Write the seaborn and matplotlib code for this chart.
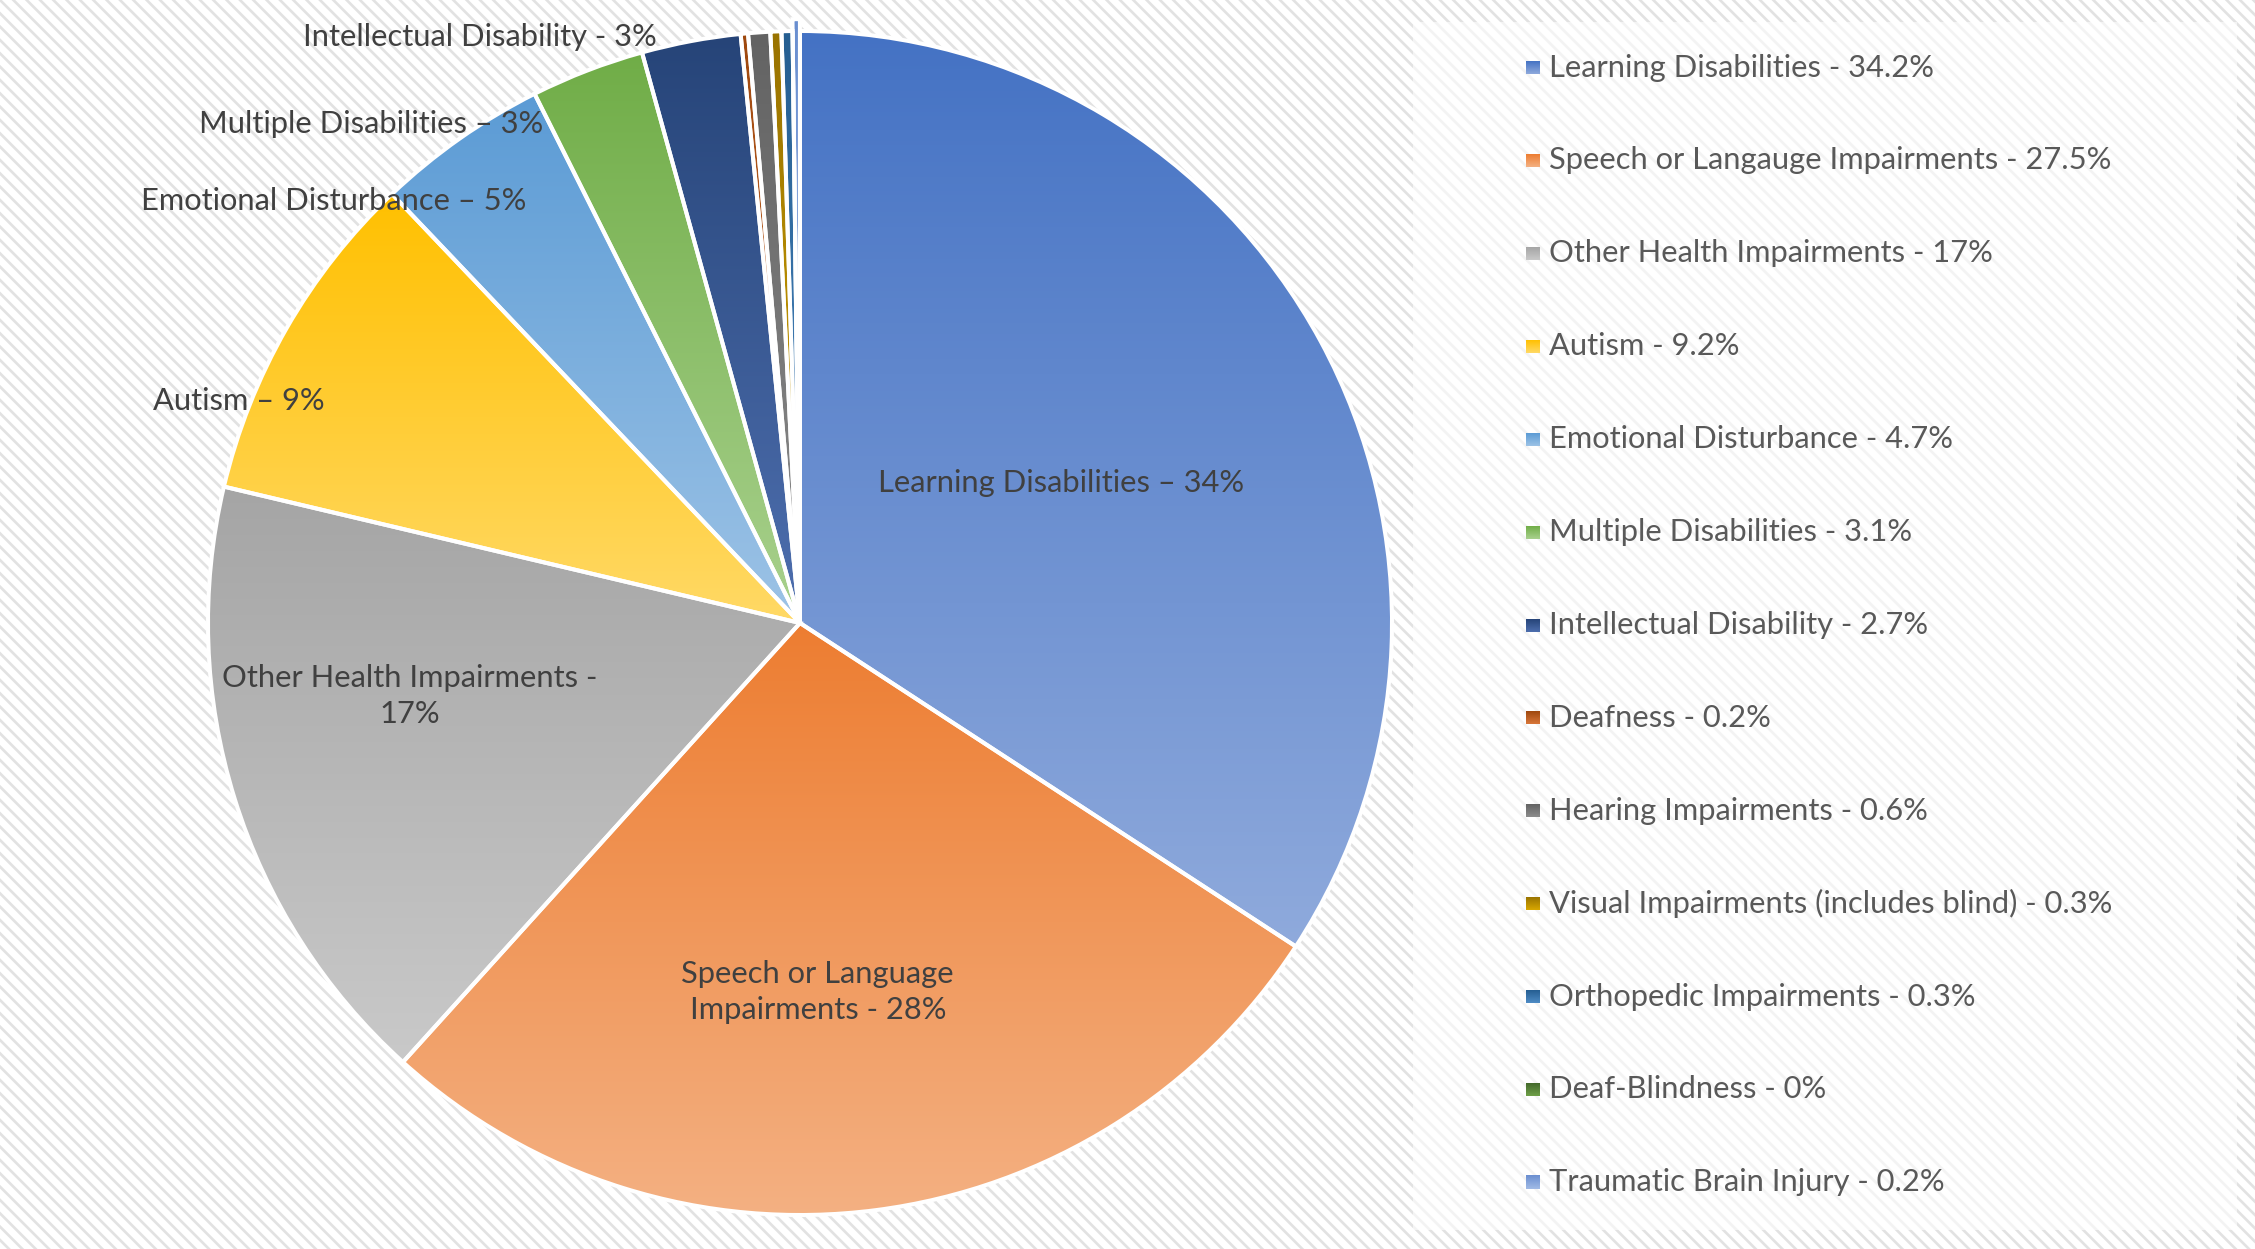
import numpy as np
import matplotlib.pyplot as plt
import seaborn as sns
from matplotlib.patches import Rectangle

# Data
categories = ['Learning Disabilities', 'Speech or Language Impairments', 'Other Health Impairments',
              'Autism', 'Emotional Disturbance', 'Multiple Disabilities', 'Intellectual Disability',
              'Deafness', 'Hearing Impairments', 'Visual Impairments (includes blind)',
              'Orthopedic Impairments', 'Deaf-Blindness', 'Traumatic Brain Injury']
shares = [34.2, 27.5, 17, 9.2, 4.7, 3.1, 2.7, 0.2, 0.6, 0.3, 0.3, 0, 0.2]

legend_labels = ['Learning Disabilities - 34.2%', 'Speech or Langauge Impairments - 27.5%',
                 'Other Health Impairments - 17%', 'Autism - 9.2%', 'Emotional Disturbance - 4.7%',
                 'Multiple Disabilities - 3.1%', 'Intellectual Disability - 2.7%', 'Deafness - 0.2%',
                 'Hearing Impairments - 0.6%', 'Visual Impairments (includes blind) - 0.3%',
                 'Orthopedic Impairments - 0.3%', 'Deaf-Blindness - 0%', 'Traumatic Brain Injury - 0.2%']

slice_labels = ['Learning Disabilities \u2013 34%', 'Speech or Language\nImpairments - 28%',
                'Other Health Impairments -\n17%', 'Autism \u2013 9%', 'Emotional Disturbance \u2013 5%',
                'Multiple Disabilities \u2013 3%', 'Intellectual Disability - 3%']

# label positions in pie units (radius = 1), placed by hand like in the original
label_pos = [(0.441, 0.236), (0.030, -0.623), (-0.659, -0.123), (-0.948, 0.375),
             (-0.787, 0.713), (-0.725, 0.843), (-0.541, 0.990)]

top_colors = ['#4472C4', '#ED7D31', '#A5A5A5', '#FFC000', '#5B9BD5', '#70AD47', '#264478',
              '#9E480E', '#636363', '#997300', '#255E91', '#43682B', '#698ED0']
bottom_colors = ['#8FAADC', '#F4B183', '#C9C9C9', '#FFD966', '#9DC3E6', '#A9D18E', '#4E6FAF',
                 '#D9773A', '#8C8C8C', '#D9A800', '#4F8CC6', '#6FA048', '#A2BBE6']

sns.set_theme(style='white')
plt.rcParams['font.family'] = ['Lato', 'DejaVu Sans']
plt.rcParams['hatch.color'] = '#e2e2e2'
plt.rcParams['hatch.linewidth'] = 1.6

W, H = 2255, 1249
fig = plt.figure(figsize=(W / 120, H / 120), dpi=120)

# hatched background + light legend panel
bg = fig.add_axes([0, 0, 1, 1])
bg.set_axis_off()
bg.add_patch(Rectangle((0, 0), 1, 1, facecolor='white', edgecolor='#e2e2e2',
                       hatch='\\\\\\', linewidth=0))
bg.add_patch(Rectangle((1413 / W, 19 / H), 824 / W, 1208 / H, facecolor='white',
                       alpha=0.6, linewidth=0))

# pie: centre (800, 623) px, radius 592 px
R, cx, cy = 592, 800, 623
pad = 1.1
ax = fig.add_axes([(cx - pad * R) / W, (H - cy - pad * R) / H, 2 * pad * R / W, 2 * pad * R / H])
explode = [0] * 12 + [0.02]
wedges, _ = ax.pie(shares, startangle=90, counterclock=False, explode=explode, radius=1,
                   colors=top_colors, wedgeprops=dict(edgecolor='white', linewidth=2.4))

grad = np.linspace(0, 1, 256).reshape(-1, 1)
for w, s, ct, cb in zip(wedges, shares, top_colors, bottom_colors):
    w.set_zorder(2)
    if s == 0:
        continue
    v = w.get_path().vertices
    cmap = sns.blend_palette([cb, ct], as_cmap=True)
    im = ax.imshow(grad, cmap=cmap, origin='lower', aspect='auto', zorder=1,
                   extent=(v[:, 0].min(), v[:, 0].max(), v[:, 1].min(), v[:, 1].max()))
    im.set_clip_path(w)
    w.set_facecolor('none')

for txt, (x, y) in zip(slice_labels, label_pos):
    ax.text(x, y, txt, ha='center', va='center', fontsize=18.5, color='#404040',
            linespacing=1.35, zorder=5)

ax.set_xlim(-pad, pad)
ax.set_ylim(-pad, pad)
ax.set_aspect('equal')
ax.set_axis_off()

# legend, drawn by hand
for i, (lab, ct, cb) in enumerate(zip(legend_labels, top_colors, bottom_colors)):
    y_px = 67.6 + 92.9 * i
    bg.imshow(grad, cmap=sns.blend_palette([cb, ct], as_cmap=True), origin='lower', aspect='auto',
              extent=((1533 - 6.5) / W, (1533 + 6.5) / W, 1 - (y_px + 6.5) / H, 1 - (y_px - 6.5) / H),
              zorder=3)
    fig.text(1549 / W, 1 - y_px / H, lab, ha='left', va='center', fontsize=18.5, color='#595959')
bg.set_xlim(0, 1)
bg.set_ylim(0, 1)

fig.savefig('out.png', dpi=120)
